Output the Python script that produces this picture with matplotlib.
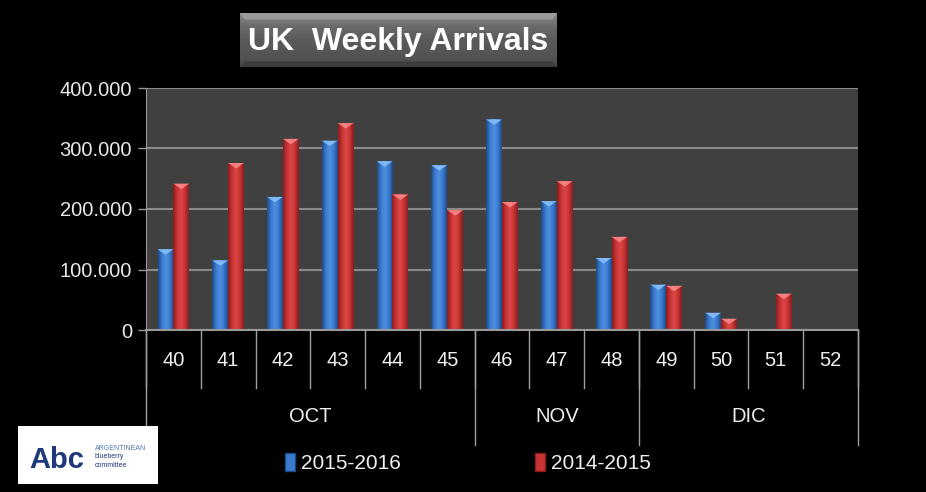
import numpy as np
import matplotlib
matplotlib.use("Agg")
import matplotlib.pyplot as plt
from matplotlib.patches import Rectangle, Polygon, Patch
from matplotlib.colors import LinearSegmentedColormap
import matplotlib.transforms as mtransforms

plt.rcParams['font.family'] = ['Liberation Sans', 'DejaVu Sans']

# ---- data ----
weeks = ["40", "41", "42", "43", "44", "45", "46", "47", "48", "49", "50", "51", "52"]
months = ["OCT", "NOV", "DIC"]
month_spans = [6, 3, 4]  # number of weeks per month
series_names = ["2015-2016", "2014-2015"]
vals_2015_2016 = [133500, 115000, 220000, 313000, 279000, 272500, 348000, 213000, 119000, 75000, 28500, 0, 0]
vals_2014_2015 = [242000, 276000, 316000, 342000, 224000, 198000, 211500, 246000, 154000, 73000, 18700, 60000, 0]
y_ticks = [0, 100000, 200000, 300000, 400000]
y_labels = ["0", "100.000", "200.000", "300.000", "400.000"]

W, H = 926, 492
fig = plt.figure(figsize=(W / 100, H / 100), dpi=100, facecolor="black")

def fx(px):
    return px / W

def fy(py):
    return 1 - py / H

ax = fig.add_axes([fx(146), fy(330), fx(858) - fx(146), fy(88) - fy(330)])
ax.set_facecolor("#404040")
x = np.arange(len(weeks))
bw = 0.29
ax.set_xlim(-0.5, len(weeks) - 0.5)
ax.set_ylim(0, 400000)
ax.set_yticks(y_ticks)
ax.set_yticklabels(y_labels, color="#e8e8e8", fontsize=14.5)
ax.tick_params(axis="y", length=6, color="#9a9a9a", width=1, pad=4)
ax.set_xticks([])
ax.grid(axis="y", color="#8a8a8a", linewidth=1.5)
ax.set_axisbelow(True)
for s in ["top", "right"]:
    ax.spines[s].set_visible(False)
ax.spines["left"].set_color("#9a9a9a")
ax.spines["bottom"].set_color("#9a9a9a")
ax.spines["bottom"].set_linewidth(1.5)

blue_cmap = LinearSegmentedColormap.from_list("b", ["#1d4a86", "#3b7bd0", "#4f90e0", "#3b7bd0", "#1d4a86"])
red_cmap = LinearSegmentedColormap.from_list("r", ["#8a1c1c", "#c83434", "#dc4848", "#c83434", "#8a1c1c"])

b1 = ax.bar(x - bw / 2, vals_2015_2016, bw, color="#3b7bd0", zorder=2)
b2 = ax.bar(x + bw / 2, vals_2014_2015, bw, color="#c83434", zorder=2)

grad = np.linspace(0, 1, 64).reshape(1, -1)
tri_h = 9000
for bars, cmap, light in [(b1, blue_cmap, "#8cc4ff"), (b2, red_cmap, "#ff8c8c")]:
    for r in bars:
        h = r.get_height()
        if h <= 0:
            continue
        x0 = r.get_x()
        x1 = x0 + r.get_width()
        im = ax.imshow(grad, cmap=cmap, extent=[x0, x1, 0, h], aspect="auto", zorder=2.5, interpolation="bicubic")
        im.set_clip_path(r)
        th = min(tri_h, h)
        ax.add_patch(Polygon([[x0, h], [x1, h], [(x0 + x1) / 2, h - th]], closed=True,
                             facecolor=light, edgecolor="none", alpha=0.85, zorder=3))
ax.set_xlim(-0.5, len(weeks) - 0.5)
ax.set_ylim(0, 400000)

# multi-level category axis
trans = mtransforms.blended_transform_factory(ax.transData, ax.transAxes)
ah = fy(88) - fy(330)
def ay(py):
    return (fy(py) - fy(330)) / ah

for i in range(len(weeks) + 1):
    ax.plot([i - 0.5, i - 0.5], [0, ay(388)], color="#a0a0a0", lw=1, transform=trans, clip_on=False)
for i, w in enumerate(weeks):
    ax.text(i, ay(360), w, color="#f0f0f0", fontsize=14.5, ha="center", va="center", transform=trans)
start = 0
bounds = [0]
for m, span in zip(months, month_spans):
    ax.text(start + span / 2 - 0.5, ay(417), m, color="#f0f0f0", fontsize=14.5, ha="center", va="center", transform=trans)
    start += span
    bounds.append(start)
for b in bounds:
    ax.plot([b - 0.5, b - 0.5], [0, ay(445)], color="#a0a0a0", lw=1, transform=trans, clip_on=False)

# legend
handles = [Patch(facecolor="#3b7bd0", edgecolor="#1d4a86"), Patch(facecolor="#c83434", edgecolor="#8a1c1c")]
fig.legend(handles, series_names, loc="center", bbox_to_anchor=(fx(468), fy(463)), ncol=2, frameon=False,
           fontsize=15, labelcolor="#f0f0f0", handlelength=0.5, handleheight=0.95, handletextpad=0.3,
           columnspacing=6.4)

# title box
tax = fig.add_axes([fx(240), fy(67), fx(557) - fx(240), fy(13) - fy(67)])
tgrad = np.linspace(0, 1, 64).reshape(-1, 1)
tcmap = LinearSegmentedColormap.from_list("t", ["#8a8a8a", "#6a6a6a", "#5a5a5a", "#555555", "#4a4a4a"])
tax.imshow(tgrad, cmap=tcmap, extent=[0, 1, 0, 1], aspect="auto")
tax.set_xlim(0, 1)
tax.set_ylim(0, 1)
tax.add_patch(Polygon([[0, 1], [1, 1], [0.985, 0.88], [0.015, 0.88]], facecolor="#9c9c9c", edgecolor="none"))
tax.add_patch(Polygon([[0, 0], [1, 0], [0.985, 0.1], [0.015, 0.1]], facecolor="#3c3c3c", edgecolor="none"))
tax.set_axis_off()
fig.text(fx(398), fy(42), "UK  Weekly Arrivals", color="white", fontsize=23, fontweight="bold",
         ha="center", va="center")

# logo
lax = fig.add_axes([fx(18), fy(484), fx(158) - fx(18), fy(426) - fy(484)])
lax.set_facecolor("white")
lax.set_xticks([])
lax.set_yticks([])
for s in lax.spines.values():
    s.set_visible(False)
lax.text(0.08, 0.42, "Abc", color="#1f3a7a", fontsize=21, fontweight="bold", ha="left", va="center",
         transform=lax.transAxes)
lax.text(0.55, 0.62, "ARGENTINEAN", color="#4a78b0", fontsize=5, ha="left", va="center", transform=lax.transAxes)
lax.text(0.55, 0.47, "blueberry", color="#1f3a7a", fontsize=5, ha="left", va="center", transform=lax.transAxes)
lax.text(0.55, 0.32, "committee", color="#1f3a7a", fontsize=5, ha="left", va="center", transform=lax.transAxes)

fig.savefig("out.png", dpi=100, facecolor="black")
